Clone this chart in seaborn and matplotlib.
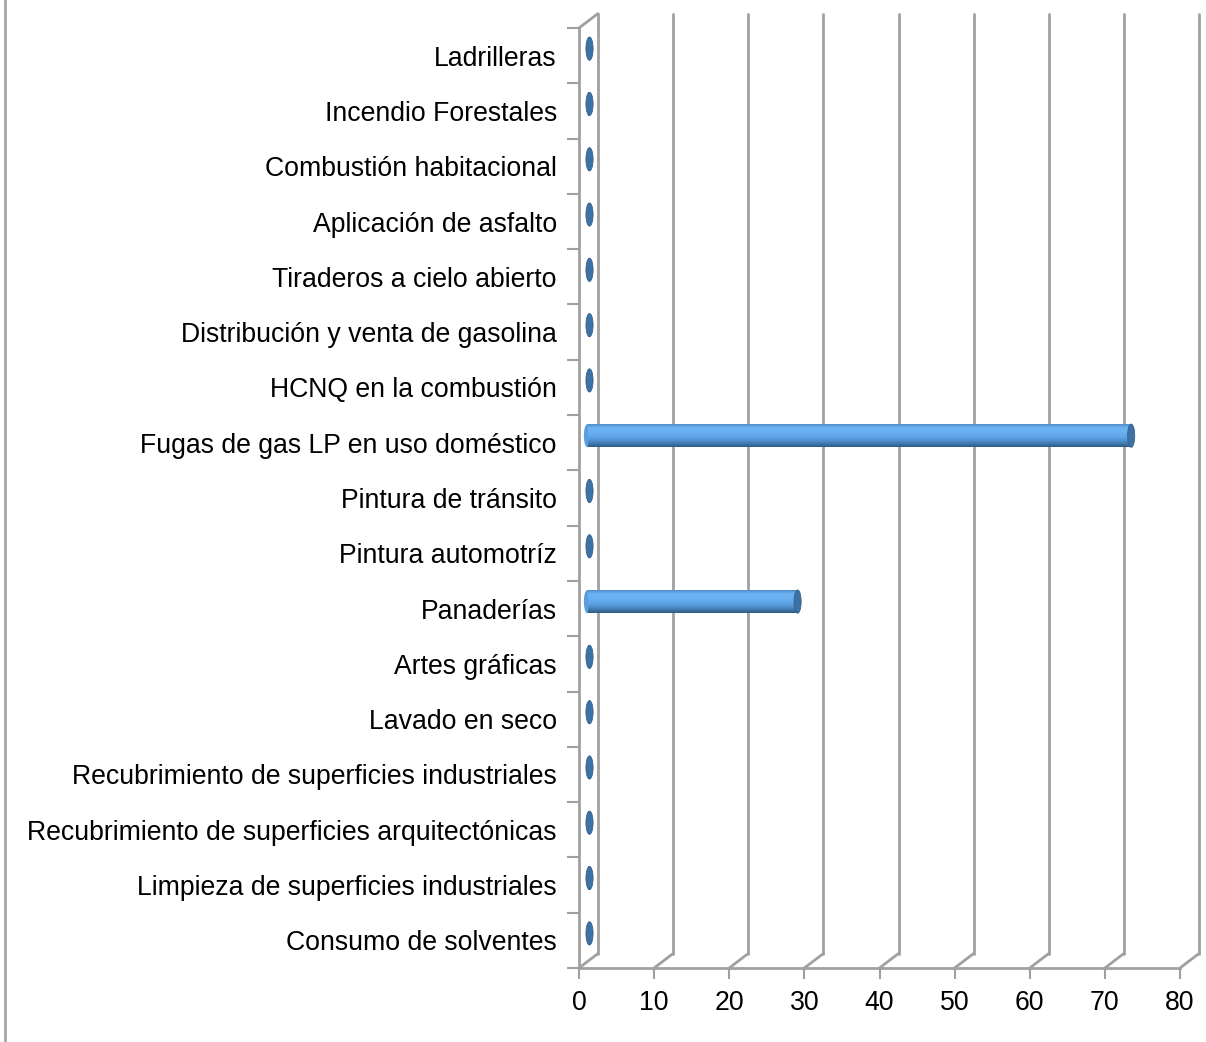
import numpy as np
import pandas as pd
import seaborn as sns
import matplotlib.pyplot as plt
import matplotlib.transforms as mtransforms
from matplotlib.patches import Ellipse
from matplotlib.colors import LinearSegmentedColormap

# data (top to bottom as in the chart)
categories = [
    "Ladrilleras",
    "Incendio Forestales",
    "Combustión habitacional",
    "Aplicación de asfalto",
    "Tiraderos a cielo abierto",
    "Distribución y venta de gasolina",
    "HCNQ en la combustión",
    "Fugas de gas LP en uso doméstico",
    "Pintura de tránsito",
    "Pintura automotríz",
    "Panaderías",
    "Artes gráficas",
    "Lavado en seco",
    "Recubrimiento de superficies industriales",
    "Recubrimiento de superficies arquitectónicas",
    "Limpieza de superficies industriales",
    "Consumo de solventes",
]
values = [0.2, 0.2, 0.2, 0.2, 0.2, 0.2, 0.2, 72.3, 0.2, 0.2, 27.9,
          0.2, 0.2, 0.2, 0.2, 0.2, 0.2]
x_ticks = [0, 10, 20, 30, 40, 50, 60, 70, 80]

df = pd.DataFrame({"cat": categories, "val": values})

sns.set_theme(style="white")
plt.rcParams["font.family"] = ["Liberation Sans", "DejaVu Sans"]

fig = plt.figure(figsize=(12.06, 10.42), dpi=100)
ax = fig.add_axes([579 / 1206, 74 / 1042, 601 / 1206, 940 / 1042])

grid_c = "#a0a0a0"
# depth offsets (pixels -> inches)
back = mtransforms.ScaledTranslation(19 / 100, 14.5 / 100, fig.dpi_scale_trans)
mid = mtransforms.ScaledTranslation(9 / 100, 7 / 100, fig.dpi_scale_trans)

sns.barplot(data=df, x="val", y="cat", orient="h", color="#5ca4e6",
            width=0.42, ax=ax, zorder=3, linewidth=0)
ax.set_xlim(0, 80)
ax.set_ylim(16.5, -0.5)

# cylinder shading + end caps
cmap = LinearSegmentedColormap.from_list(
    "cyl", ["#4a86c0", "#6cb4f4", "#68b0f2", "#5ea4e6", "#4a86bf", "#2f5a85"])
for p in list(ax.patches):
    x0, y0 = p.get_x(), p.get_y()
    w, h = p.get_width(), p.get_height()
    p.set_transform(ax.transData + mid)
    if w > 1:
        grad = np.linspace(0, 1, 64).reshape(-1, 1)
        im = ax.imshow(grad, cmap=cmap, aspect="auto",
                       extent=(x0 - 0.4, x0 + w, y0 + h, y0),
                       transform=ax.transData + mid, zorder=3.5)
        im.set_clip_path(p)
        ax.add_patch(Ellipse((x0 - 0.1, y0 + h / 2), 0.9, h,
                             transform=ax.transData + mid,
                             facecolor="#5a9edf", edgecolor="none", zorder=3.2))
    ax.add_patch(Ellipse((x0 + w, y0 + h / 2), 0.95, h,
                         transform=ax.transData + mid,
                         facecolor="#3e72a4", edgecolor="#35628e",
                         linewidth=0.6, zorder=4))

# back wall gridlines and floor diagonals
for v in x_ticks:
    ax.plot([v, v], [16.5, -0.5], color=grid_c, lw=2, zorder=1,
            transform=ax.transData + back, clip_on=False)
ax.set_xlim(0, 80)
ax.set_ylim(16.5, -0.5)
fig.canvas.draw()
for v in x_ticks:
    x0d, y0d = ax.transData.transform((v, 16.5))
    x1d, y1d = (ax.transData + back).transform((v, 16.5))
    ax.plot([x0d, x1d], [y0d, y1d], color=grid_c, lw=2, zorder=1,
            transform=None, clip_on=False)
# side wall top diagonal
x0d, y0d = ax.transData.transform((0, -0.5))
x1d, y1d = (ax.transData + back).transform((0, -0.5))
ax.plot([x0d, x1d], [y0d, y1d], color=grid_c, lw=2, zorder=1,
        transform=None, clip_on=False)

for s in ["top", "right"]:
    ax.spines[s].set_visible(False)
for s in ["left", "bottom"]:
    ax.spines[s].set_color(grid_c)
    ax.spines[s].set_linewidth(2)

ax.set_xticks(x_ticks)
ax.set_yticks(np.arange(-0.5, 17, 1), minor=True)
ax.tick_params(axis="x", which="major", length=8, width=1.5, color=grid_c,
               pad=8, labelsize=19.2, labelcolor="black", direction="out",
               bottom=True)
ax.tick_params(axis="y", which="major", length=0, pad=16, labelsize=19.2,
               labelcolor="black")
ax.tick_params(axis="y", which="minor", length=9, width=1.5, color=grid_c,
               left=True)
ax.set_xlabel("")
ax.set_ylabel("")
ax.set_facecolor("none")
ax.set_xlim(0, 80)
ax.set_ylim(16.5, -0.5)

fig.add_artist(plt.Line2D([4.5 / 1206, 4.5 / 1206], [0, 1], color="#a6a6a6",
                          lw=2, transform=fig.transFigure))

fig.savefig("out.png", dpi=100)
